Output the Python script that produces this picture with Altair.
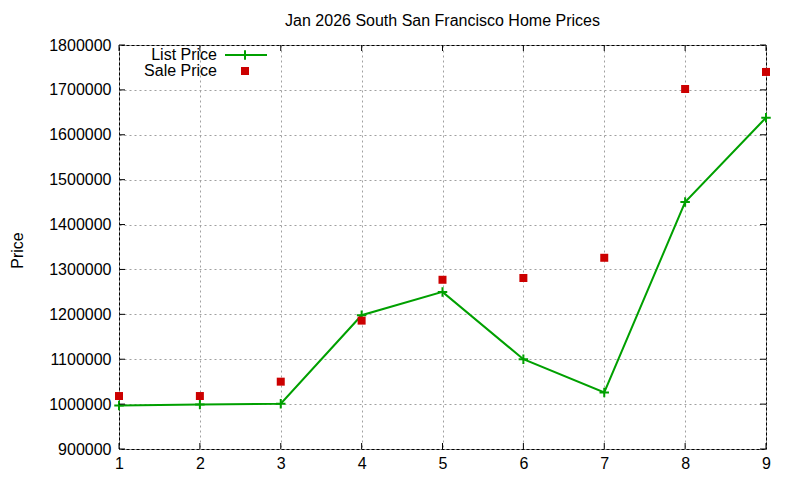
import altair as alt
import pandas as pd

months = [1, 2, 3, 4, 5, 6, 7, 8, 9]
list_price = [997000, 999000, 1001000, 1198000, 1250000, 1100000, 1026000, 1450000, 1638000]
sale_price = [1018000, 1018000, 1050000, 1186000, 1277000, 1281000, 1326000, 1702000, 1740000]
y_ticks = [900000, 1000000, 1100000, 1200000, 1300000, 1400000, 1500000, 1600000, 1700000, 1800000]
x_ticks = [1, 2, 3, 4, 5, 6, 7, 8, 9]

FONT = "Liberation Sans"
GREEN = "#00a000"
RED = "#cc0000"
W, H = 647, 404

df = pd.DataFrame({"x": months, "list": list_price, "sale": sale_price})
ydf = pd.DataFrame({"v": y_ticks})
xdf = pd.DataFrame({"v": x_ticks})

xs = alt.Scale(domain=[1, 9], nice=False, zero=False)
ys = alt.Scale(domain=[900000, 1800000], nice=False, zero=False)

grid_dash = [2, 3]

xaxis = alt.Axis(values=x_ticks, format="d", ticks=False, domain=False, grid=True,
                 gridColor="#a0a0a0", gridDash=grid_dash, gridWidth=1, labelFlush=False,
                 labelFont=FONT, labelFontSize=16, labelColor="black", labelPadding=6,
                 title=None)
yaxis = alt.Axis(values=y_ticks, format="d", ticks=False, domain=False, grid=True,
                 gridColor="#a0a0a0", gridDash=grid_dash, gridWidth=1, labelFlush=False,
                 labelFont=FONT, labelFontSize=16, labelColor="black", labelPadding=8,
                 title="Price", titleFont=FONT, titleFontSize=16, titleFontWeight="normal",
                 titleColor="black", titleAngle=-90, titleX=-102, titleY=H / 2 + 3,
                 titleAlign="center", titleBaseline="middle")

base = alt.Chart(df)

line = base.mark_line(color=GREEN, strokeWidth=2).encode(
    x=alt.X("x:Q", scale=xs, axis=xaxis),
    y=alt.Y("list:Q", scale=ys, axis=yaxis),
)
plus = base.mark_point(shape="M-1,0L1,0M0,-1L0,1", filled=False, color=GREEN,
                       strokeWidth=2, size=90, opacity=1).encode(
    x=alt.X("x:Q", scale=xs), y=alt.Y("list:Q", scale=ys))
sale = base.mark_square(color=RED, size=64, opacity=1).encode(
    x=alt.X("x:Q", scale=xs), y=alt.Y("sale:Q", scale=ys))

TL = 6
yt_left = alt.Chart(ydf).mark_rule(color="black", strokeWidth=1).encode(
    x=alt.value(0), x2=alt.value(TL), y=alt.Y("v:Q", scale=ys))
yt_right = alt.Chart(ydf).mark_rule(color="black", strokeWidth=1).encode(
    x=alt.value(W - TL), x2=alt.value(W), y=alt.Y("v:Q", scale=ys))
xt_bot = alt.Chart(xdf).mark_rule(color="black", strokeWidth=1).encode(
    y=alt.value(H), y2=alt.value(H - TL), x=alt.X("v:Q", scale=xs))
xt_top = alt.Chart(xdf).mark_rule(color="black", strokeWidth=1).encode(
    y=alt.value(0), y2=alt.value(TL), x=alt.X("v:Q", scale=xs))

leg_df = pd.DataFrame({"a": [0]})
leg_t1 = alt.Chart(leg_df).mark_text(text="List Price", align="right", baseline="middle",
                                     font=FONT, fontSize=16, color="black").encode(
    x=alt.value(98), y=alt.value(10))
leg_t2 = alt.Chart(leg_df).mark_text(text="Sale Price", align="right", baseline="middle",
                                     font=FONT, fontSize=16, color="black").encode(
    x=alt.value(98), y=alt.value(26))
leg_line = alt.Chart(leg_df).mark_rule(color=GREEN, strokeWidth=2).encode(
    x=alt.value(106), x2=alt.value(148), y=alt.value(10))
leg_plus = alt.Chart(leg_df).mark_point(shape="M-1,0L1,0M0,-1L0,1", filled=False, color=GREEN,
                                        strokeWidth=2, size=90, opacity=1).encode(
    x=alt.value(126), y=alt.value(10))
leg_sq = alt.Chart(leg_df).mark_square(color=RED, size=64, opacity=1).encode(
    x=alt.value(126), y=alt.value(26))

chart = alt.layer(
    line, plus, sale, yt_left, yt_right, xt_bot, xt_top,
    leg_t1, leg_t2, leg_line, leg_plus, leg_sq
).properties(
    width=W, height=H,
    title=alt.TitleParams("Jan 2026 South San Francisco Home Prices", font=FONT, fontSize=16,
                          fontWeight="normal", color="black", anchor="middle", offset=8),
    autosize=alt.AutoSizeParams(type="none"),
    padding={"left": 111, "top": 37, "right": 24, "bottom": 22},
    background="white",
).configure_view(stroke="black", strokeWidth=1)

chart.save("out.html", embed_options={"renderer": "svg", "actions": False})
